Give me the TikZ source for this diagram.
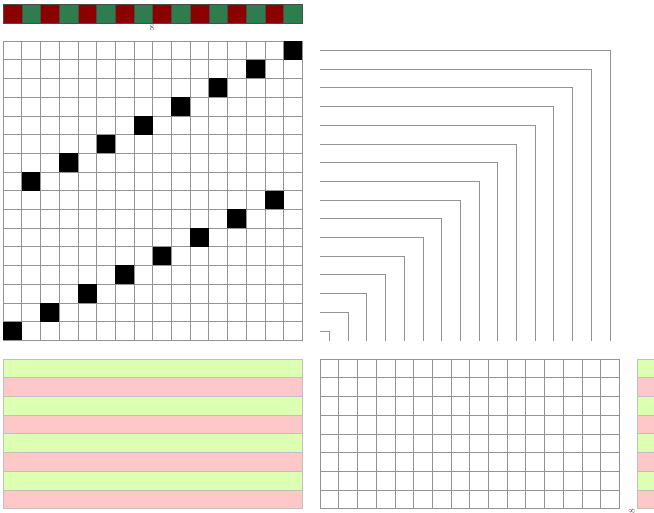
\documentclass[tikz,border=0pt]{standalone}
\definecolor{warpred}{RGB}{139,0,0}
\definecolor{warpgreen}{RGB}{46,125,79}
\definecolor{weftgreen}{RGB}{221,255,178}
\definecolor{weftpink}{RGB}{255,200,200}
\begin{document}
\begin{tikzpicture}[x=1pt, y=-1pt,
    cell/.style={draw=gray!85, line width=0.6pt},
    warp/.style={draw=gray!60!black, line width=0.4pt},
    weft/.style={draw=black!25, line width=0.7pt},
    tie/.style={draw=gray!85, line width=0.6pt},
    lbl/.style={font=\fontsize{9}{9}\selectfont, text=gray!70!black, inner sep=0pt},
]
\clip (0,0) rectangle (654,512);
\fill[white] (0,0) rectangle (654,512);

% warp colours (top)
\foreach \i in {0,...,15} {
  \pgfmathsetmacro\wc{mod(\i,2)==0 ? "warpred" : "warpgreen"}
  \filldraw[warp, fill=\wc] ({3+18.7*\i},4) rectangle ++(18.7,19);
}
\node[lbl] (warplabel) at (152,28) {8};

% drawdown grid
\foreach \r in {0,...,15}
  \foreach \c in {0,...,15}
    \draw[cell] ({3+18.7*\c},{41+18.7*\r}) rectangle ++(18.7,18.7);

% black cells
\foreach \r in {0,...,7} {
  \fill[black] ({3+18.7*(15-2*\r)},{41+18.7*\r}) rectangle ++(18.7,18.7);
  \fill[black] ({3+18.7*(14-2*\r)},{41+18.7*(\r+8)}) rectangle ++(18.7,18.7);
}

% tie-up lines (right)
\foreach \r in {0,...,15}
  \draw[tie] (320,{41+18.7*\r+9.35}) -| ({320+18.7*(15-\r)+9.35},341);

% weft colours (bottom left)
\foreach \k in {0,...,7} {
  \pgfmathsetmacro\fc{mod(\k,2)==0 ? "weftgreen" : "weftpink"}
  \filldraw[weft, fill=\fc] (3,{359+18.7*\k}) rectangle (302,{359+18.7*(\k+1)});
}

% empty grid (bottom middle)
\foreach \r in {0,...,7}
  \foreach \c in {0,...,15}
    \draw[cell] ({320+18.7*\c},{359+18.7*\r}) rectangle ++(18.7,18.7);

% weft colours (right edge)
\foreach \k in {0,...,7} {
  \pgfmathsetmacro\fc{mod(\k,2)==0 ? "weftgreen" : "weftpink"}
  \filldraw[weft, fill=\fc] (637,{359+18.7*\k}) rectangle ++(18.7,18.7);
}
\node[lbl, rotate=90] (weftlabel) at (632,511) {8};

\end{tikzpicture}
\end{document}
